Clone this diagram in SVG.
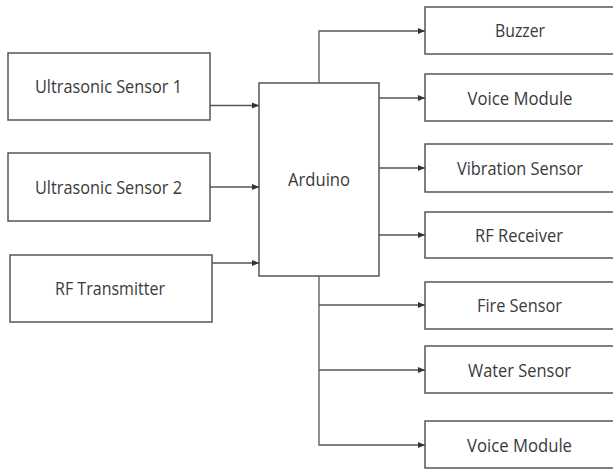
<svg xmlns="http://www.w3.org/2000/svg" width="613" height="469" viewBox="0 0 613 469">
<defs>
<marker id="ah" markerWidth="8" markerHeight="8" refX="7" refY="4" orient="auto" markerUnits="userSpaceOnUse">
<path d="M0,1 L7,4 L0,7 z" fill="#333"/>
</marker>
<style>
.box{fill:#fff;stroke:#555;stroke-width:1.5}
.t{font-family:"Open Sans","Noto Sans",sans-serif;font-size:17.5px;fill:#3a3a3a;text-anchor:middle}
.c{fill:none;stroke:#555;stroke-width:1.3}
</style>
</defs>
<rect width="613" height="469" fill="#fff"/>
<g id="us1"><rect class="box" x="8" y="53" width="202" height="67"/><text class="t" x="108.5" y="93" textLength="147" lengthAdjust="spacingAndGlyphs">Ultrasonic Sensor 1</text></g>
<g id="us2"><rect class="box" x="8" y="153" width="202" height="68"/><text class="t" x="108.5" y="194" textLength="147" lengthAdjust="spacingAndGlyphs">Ultrasonic Sensor 2</text></g>
<g id="rft"><rect class="box" x="10" y="255" width="202" height="67"/><text class="t" x="110" y="295" textLength="110" lengthAdjust="spacingAndGlyphs">RF Transmitter</text></g>
<g id="arduino"><rect class="box" x="259" y="83" width="120" height="193"/><text class="t" x="319" y="186" textLength="62" lengthAdjust="spacingAndGlyphs">Arduino</text></g>
<g id="buzzer"><rect class="box" x="425" y="7" width="190" height="47"/><text class="t" x="520" y="37" textLength="50" lengthAdjust="spacingAndGlyphs">Buzzer</text></g>
<g id="voice1"><rect class="box" x="425" y="74" width="190" height="47"/><text class="t" x="520" y="105" textLength="105" lengthAdjust="spacingAndGlyphs">Voice Module</text></g>
<g id="vibration"><rect class="box" x="425" y="144" width="190" height="48"/><text class="t" x="520" y="175" textLength="126" lengthAdjust="spacingAndGlyphs">Vibration Sensor</text></g>
<g id="rfr"><rect class="box" x="425" y="212" width="190" height="46"/><text class="t" x="519" y="242" textLength="88" lengthAdjust="spacingAndGlyphs">RF Receiver</text></g>
<g id="fire"><rect class="box" x="425" y="282" width="190" height="47"/><text class="t" x="519.5" y="312" textLength="85" lengthAdjust="spacingAndGlyphs">Fire Sensor</text></g>
<g id="water"><rect class="box" x="425" y="346" width="190" height="47"/><text class="t" x="519.5" y="377" textLength="103" lengthAdjust="spacingAndGlyphs">Water Sensor</text></g>
<g id="voice2"><rect class="box" x="425" y="421" width="190" height="47"/><text class="t" x="519.5" y="452" textLength="105" lengthAdjust="spacingAndGlyphs">Voice Module</text></g>
<g id="connectors">
<path class="c" d="M210,105.5 H259" marker-end="url(#ah)"/>
<path class="c" d="M210,187 H259" marker-end="url(#ah)"/>
<path class="c" d="M212,263 H259" marker-end="url(#ah)"/>
<path class="c" d="M319,83 V31 H425" marker-end="url(#ah)"/>
<path class="c" d="M379,98 H425" marker-end="url(#ah)"/>
<path class="c" d="M379,168 H425" marker-end="url(#ah)"/>
<path class="c" d="M379,235 H425" marker-end="url(#ah)"/>
<path class="c" d="M319,276 V445 H425" marker-end="url(#ah)"/>
<path class="c" d="M319,305 H425" marker-end="url(#ah)"/>
<path class="c" d="M319,370 H425" marker-end="url(#ah)"/>
</g>
</svg>
